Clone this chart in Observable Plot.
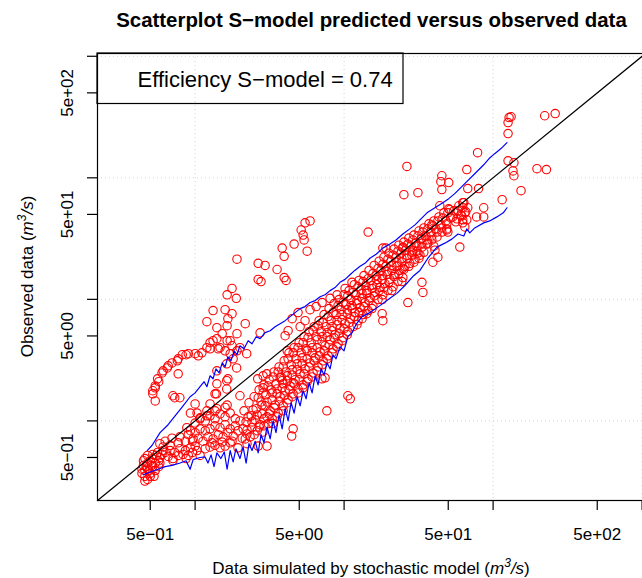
<!DOCTYPE html>
<html>
<head>
<meta charset="utf-8">
<script src="https://cdn.jsdelivr.net/npm/d3@7"></script>
<script src="https://cdn.jsdelivr.net/npm/@observablehq/plot@0.6"></script>
<style>
  html, body { margin: 0; padding: 0; background: #fff; overflow: hidden; }
</style>
</head>
<body>
<div id="chart"></div>
<script>
// ---------- text ----------
const chartTitle = "Scatterplot S\u2212model predicted versus observed data";
const legendLabel = "Efficiency S\u2212model = 0.74";
const xTitleMain = "Data simulated by stochastic model (";
const yTitleMain = "Observed data (";

// ---------- axes ----------
const axisDomain = [0.2213, 1054];
const tickValues = [0.5, 1, 5, 10, 50, 100, 500, 1000];
const labeledTicks = [0.5, 5, 50, 500];
const tickLabels = ["5e\u221201", "5e+00", "5e+01", "5e+02"];
const gridValues = [1, 10, 100, 1000];

// ---------- observed vs simulated points [simulated, observed] ----------
const lowCluster = [[0.46,0.32],[0.44,0.37],[0.46,0.39],[0.48,0.40],[0.50,0.37],[0.52,0.42],[0.45,0.43],[0.48,0.45],[0.50,0.47],[0.54,0.45],[0.52,0.49],[0.57,0.47],[0.46,0.49],[0.48,0.52],[0.52,0.53],[0.55,0.52],[0.58,0.50],[0.45,0.47],[0.50,0.35],[0.54,0.39],[0.57,0.42],[0.58,0.45],[0.47,0.42],[0.44,0.40],[0.51,0.43],[0.56,0.55],[0.60,0.53],[0.61,0.57],[0.49,0.39],[0.46,0.35],[0.53,0.35],[0.48,0.33]];
const lowBand = [[0.63,0.55],[0.68,0.57],[0.73,0.55],[0.79,0.59],[0.86,0.57],[0.93,0.60],[0.66,0.51],[0.71,0.49],[0.77,0.52],[0.83,0.53],[0.90,0.52],[0.96,0.55],[1.03,0.57],[1.08,0.52],[1.0,0.62],[1.17,0.59],[1.26,0.61],[1.36,0.63],[1.47,0.60],[1.59,0.62],[1.72,0.66],[1.94,0.60],[2.23,0.65],[2.65,0.62],[3.04,0.62],[0.71,0.47],[0.87,0.49],[0.61,0.61],[0.68,0.63],[0.77,0.66],[0.86,0.68],[0.96,0.68],[0.63,0.68],[0.70,0.72],[0.79,0.74],[0.90,0.77],[0.58,0.65]];
const midBlob = [[0.93,0.83],[1.0,0.80],[1.08,0.86],[1.17,0.83],[1.26,0.86],[1.36,0.91],[1.47,0.88],[1.59,0.93],[1.72,0.86],[1.86,0.91],[1.05,0.72],[1.13,0.68],[1.22,0.74],[1.32,0.71],[1.43,0.77],[1.54,0.74],[1.66,0.80],[1.80,0.75],[1.94,0.83],[2.10,0.86],[1.0,0.96],[1.08,1.04],[1.17,1.0],[1.26,1.10],[1.36,1.04],[1.47,1.14],[1.59,1.08],[1.72,1.16],[1.86,1.04],[2.0,1.0],[0.97,0.71],[1.30,0.66],[1.52,0.67],[1.77,0.68],[2.07,0.72],[1.20,1.21],[1.40,1.26],[1.64,1.35],[1.03,1.16],[0.88,0.88]];
const midScatter = [[1.0,1.38],[0.93,1.16],[1.26,1.38],[1.39,1.67],[1.63,1.83],[1.66,2.22],[2.0,1.61],[2.86,2.35],[3.72,2.26],[3.90,2.02],[2.86,1.87],[4.55,2.06],[5.3,1.87],[3.33,0.95],[4.55,0.86],[4.45,0.75],[7.66,1.21],[7.1,2.22],[7.45,2.26],[10.6,1.61],[11.0,1.52],[1.80,3.24],[1.63,2.95],[1.90,2.73],[1.40,2.58],[1.63,2.14],[1.40,2.02],[1.36,1.67],[1.08,1.06],[1.20,1.10],[1.36,1.21],[1.59,1.29],[2.22,3.57],[2.73,5.3],[2.63,2.22],[3.03,2.44],[0.77,2.44],[0.73,1.55],[0.79,1.55],[0.71,1.61]];
const upperBranch = [[0.54,1.87],[0.52,1.67],[0.54,1.46],[0.52,1.77],[0.54,1.94],[0.56,2.22],[0.60,2.48],[0.65,2.73],[0.70,3.00],[0.77,3.24],[0.82,3.50],[0.90,3.57],[1.00,3.57],[1.11,3.63],[1.20,4.00],[1.26,4.40],[1.32,4.57],[1.26,3.92],[1.43,3.92],[1.40,4.75],[1.47,4.00],[1.59,3.77],[1.72,3.57],[1.91,3.77],[1.77,4.15],[1.64,4.57],[1.52,5.22],[1.91,5.22],[2.17,6.31],[1.64,6.07],[1.40,5.85],[1.20,6.55],[1.32,8.08],[1.59,8.23],[1.77,7.63],[1.66,6.94],[1.64,10.9],[1.77,12.3],[1.89,10.2],[2.0,4.0],[1.72,4.57],[4.02,5.02],[4.15,3.77],[0.76,3.12],[0.61,2.58],[0.57,2.10],[0.66,2.84],[0.87,3.50],[1.05,3.43]];
const upperCluster = [[1.91,21.4],[2.65,19.8],[2.95,19.0],[2.65,14.6],[2.77,14.0],[3.55,17.6],[3.96,15.1],[4.08,14.3],[3.84,26.4],[3.96,22.6],[4.62,28.5],[5.15,37.2],[5.47,42.6],[5.91,44.2],[5.31,33.8],[5.39,30.8],[5.65,24.9]];
const mainBand = [[2.13,1.21],[2.20,0.98],[2.23,0.78],[2.17,0.71],[2.30,1.41],[2.38,1.10],[2.41,0.88],[2.34,0.74],[2.49,1.58],[2.57,1.26],[2.53,1.02],[2.61,0.83],[2.69,1.80],[2.77,1.43],[2.81,1.14],[2.73,0.93],[2.86,0.81],[2.90,1.98],[2.99,1.64],[2.95,1.33],[3.04,1.08],[2.90,0.91],[3.14,2.18],[3.24,1.80],[3.29,1.49],[3.19,1.21],[3.29,1.04],[3.39,2.53],[3.49,2.02],[3.55,1.67],[3.44,1.35],[3.61,1.16],[3.66,2.78],[3.78,2.30],[3.84,1.87],[3.72,1.58],[3.90,1.33],[3.96,3.12],[4.08,2.53],[4.15,2.14],[4.02,1.77],[4.21,1.49],[4.27,3.63],[4.41,2.89],[4.48,2.39],[4.34,1.94],[4.55,1.67],[4.62,4.00],[4.76,3.24],[4.84,2.63],[4.69,2.18],[4.91,1.83],[4.99,4.40],[5.15,3.63],[5.23,2.95],[5.07,2.44],[5.31,1.98],[5.39,4.93],[5.56,3.92],[5.65,3.24],[5.47,2.68],[5.73,2.22],[5.82,5.42],[6.01,4.40],[6.10,3.63],[5.91,3.00],[6.19,2.48],[6.29,5.96],[6.49,4.93],[6.59,4.00],[6.39,3.30],[6.69,2.78],[6.80,6.68],[7.01,5.42],[7.12,4.48],[6.90,3.70],[7.23,3.12],[7.34,7.49],[7.57,5.96],[7.69,4.93],[7.45,4.15],[7.81,3.43],[7.93,8.39],[8.18,6.68],[8.30,5.52],[8.05,4.66],[8.43,3.92],[8.56,9.23],[8.83,7.49],[8.97,6.19],[8.70,5.12],[9.11,4.31],[9.25,9.96],[9.54,8.23],[9.69,6.81],[9.39,5.74],[9.84,4.84],[9.99,10.9],[10.3,9.06],[10.5,7.63],[10.15,6.31],[10.6,5.42],[10.8,11.8],[11.1,9.96],[11.3,8.39],[11.0,6.94],[11.5,5.96],[11.7,13.2],[12.0,10.9],[12.2,9.23],[11.8,7.78],[12.4,6.68],[12.6,14.3],[13.0,12.0],[13.2,10.2],[12.8,8.55],[13.4,7.49],[13.6,15.7],[14.0,13.0],[14.2,11.2],[13.8,9.41],[14.5,8.08],[14.7,17.3],[15.1,14.3],[15.4,12.3],[14.9,10.3],[15.6,8.88],[15.9,19.0],[16.4,15.7],[16.6,13.2],[16.1,11.4],[16.9,9.96],[17.2,20.6],[17.7,17.3],[18.0,14.6],[17.4,12.5],[18.2,10.9],[18.5,22.2],[19.1,18.7],[19.4,16.0],[18.8,13.5],[19.7,11.8],[20.0,24.0],[20.6,20.6],[20.9,17.3],[20.3,14.6],[21.3,12.7],[21.6,25.9],[22.3,22.2],[22.6,18.7],[21.9,16.0],[23.0,14.0],[23.3,27.9],[24.1,24.0],[24.4,20.2],[23.7,17.3],[24.8,15.1],[25.2,29.6],[26.0,25.4],[26.4,21.8],[25.6,18.7],[27.2,31.9],[28.1,27.4],[28.5,23.1],[27.6,19.8],[29.4,33.8],[30.3,29.0],[30.8,24.9],[29.9,21.4],[31.8,36.5],[32.8,31.3],[33.3,26.9],[32.3,23.1],[34.3,38.7],[35.4,33.2],[36.0,28.5],[37.1,41.8],[38.2,35.8],[38.8,30.8],[40.0,44.2],[41.3,38.0],[42.0,32.6],[43.3,47.7],[44.6,41.0],[45.3,35.8],[46.7,51.5],[48.2,44.2],[48.9,38.0],[50.4,55.6],[52.0,46.8],[54.5,53.5],[56.2,43.4],[58.9,58.9],[60.7,49.6],[63.6,62.4],[65.6,52.5],[62.6,45.1],[4.48,6.94],[4.91,7.78],[5.47,6.68],[5.91,8.23],[6.49,8.72],[5.07,5.96],[4.21,5.52],[7.12,9.41],[8.05,10.2],[8.97,10.9],[10.15,12.3],[11.3,13.8]];
const mainBandFill = [[2.27,1.08],[2.23,0.84],[2.45,1.23],[2.41,0.98],[2.49,0.77],[2.65,1.55],[2.61,1.12],[2.69,0.89],[2.86,1.70],[2.81,1.35],[2.90,1.04],[3.09,1.94],[3.04,1.43],[3.14,1.14],[3.09,0.95],[3.34,2.30],[3.29,1.70],[3.39,1.28],[3.61,2.53],[3.55,1.83],[3.66,1.46],[3.55,1.08],[3.90,2.78],[3.84,2.14],[3.96,1.61],[3.90,1.21],[4.21,3.24],[4.15,2.35],[4.27,1.80],[4.15,1.41],[4.55,3.63],[4.48,2.63],[4.62,2.02],[4.48,1.58],[4.91,4.00],[4.84,2.95],[4.99,2.18],[4.91,1.70],[5.31,4.40],[5.23,3.30],[5.39,2.44],[5.73,4.84],[5.65,3.77],[5.82,2.78],[5.65,2.10],[6.19,5.52],[6.10,4.00],[6.29,3.12],[6.10,2.30],[6.69,6.07],[6.59,4.66],[6.80,3.43],[6.59,2.58],[7.23,6.43],[7.12,4.93],[7.34,3.77],[7.12,2.89],[7.81,7.21],[7.69,5.32],[7.93,4.23],[7.69,3.24],[8.43,7.78],[8.30,5.96],[8.56,4.84],[8.30,3.63],[9.11,8.88],[8.97,6.68],[9.25,5.22],[8.97,4.07],[9.84,9.41],[9.69,7.49],[9.99,5.74],[9.69,4.57],[10.6,10.7],[10.5,8.23],[10.8,6.43],[10.5,5.12],[11.5,11.4],[11.3,8.88],[11.7,7.21],[12.4,12.7],[12.2,9.77],[12.6,7.78],[12.2,6.19],[13.4,14.0],[13.2,11.2],[13.6,8.72],[13.2,6.94],[14.5,14.8],[14.2,11.8],[14.7,9.77],[14.2,7.63],[15.6,16.3],[15.4,13.0],[15.9,10.7],[15.4,8.39],[16.9,18.0],[16.6,14.6],[17.2,11.8],[18.2,19.4],[18.0,15.7],[18.5,12.5],[18.0,9.96],[19.7,21.4],[19.4,17.0],[20.0,13.8],[21.3,23.1],[20.9,19.0],[21.6,15.4],[20.9,11.8],[23.0,24.9],[22.6,20.2],[23.3,16.3],[24.8,26.4],[24.4,21.8],[25.2,17.6],[24.4,14.0],[26.8,28.5],[26.4,23.1],[27.2,18.7],[28.9,30.8],[28.5,24.4],[29.4,20.2],[31.3,33.2],[30.8,27.4],[31.8,21.8],[33.8,35.8],[33.3,29.0],[34.3,24.4],[36.5,38.0],[36.0,30.8],[39.4,40.2],[38.8,33.2],[40.0,27.4],[42.6,44.2],[42.0,35.8],[46.0,46.8],[45.3,38.7],[49.7,51.5],[48.9,41.8],[58.2,53.5],[57.2,46.0],[62.6,56.7],[61.6,48.7]];
const highScatter = [[128,313],[132,318],[126,285],[126,231],[222,324],[261,338],[78.7,161],[26.4,124],[126,138],[138,133],[136,114],[138,104],[197,119],[228,117],[154,78.4],[115,66.1],[66.6,117],[45.3,104],[50.4,91.3],[44.6,93.0],[45.3,80.0],[25.2,72.7],[31.3,75.5],[79.9,81.5],[43.9,58.9],[67.6,81.5],[51.2,54.6],[53.6,47.7],[62.6,62.4],[67.6,56.7],[64.6,51.5],[66.6,45.1],[62.6,42.6],[64.6,39.4],[86.5,56.7],[77.5,47.7],[86.5,47.7],[48.9,37.2],[49.7,35.8],[59.8,26.9],[14.5,35.8],[18.2,26.4],[19.1,26.4],[38.8,41.0],[33.3,31.9],[36.5,29.0],[40.7,25.4],[42.6,22.2],[39.4,20.2],[24.8,26.9],[28.9,25.4],[31.3,24.0],[33.3,13.8],[33.8,11.4],[26.8,9.41],[24.8,18.0],[18.2,6.68],[18.0,7.63]];

// ---------- stochastic model bounds ----------
const upperSim = [0.477,0.515,0.582,0.659,0.734,0.818,0.926,1.0,1.08,1.15,1.20,1.26,1.32,1.38,1.45,1.52,1.59,1.66,1.74,1.83,1.91,2.0,2.13,2.27,2.41,2.57,2.73,2.95,3.19,3.44,3.72,4.02,4.34,4.69,5.07,5.47,5.91,6.39,6.90,7.45,8.05,8.70,9.39,10.15,11.0,11.8,12.8,13.8,14.9,16.4,18.2,20.3,22.3,24.8,27.6,29.9,32.3,36.0,40.7,46.0,50.4,55.3,60.7,66.6,75.3,86.5,94.0,102.5,113,124];
const upperObs = [0.57,0.63,0.80,0.93,1.10,1.30,1.58,1.70,1.91,2.10,1.91,2.35,2.22,2.68,2.48,3.00,2.78,3.37,3.12,3.77,3.50,4.15,3.92,4.57,4.31,4.93,4.75,5.32,5.52,5.96,6.31,6.68,7.21,7.78,8.39,8.72,9.41,9.77,10.5,10.9,11.8,12.5,13.8,14.6,16.0,17.3,18.7,19.8,21.8,23.5,26.4,28.5,30.8,34.5,38.0,41.0,45.1,51.5,56.7,62.4,67.4,74.1,83.1,93.0,108,128,144,158,174,195];
const lowerSim = [0.449,0.499,0.565,0.629,0.70,0.793,0.87,0.926,0.97,1.08,1.167,1.22,1.28,1.34,1.40,1.49,1.57,1.64,1.72,1.80,1.88,2.0,2.10,2.20,2.30,2.41,2.53,2.65,2.77,2.90,3.04,3.19,3.34,3.49,3.66,3.84,4.02,4.21,4.41,4.62,4.84,5.07,5.31,5.56,5.82,6.10,6.39,6.69,7.01,7.34,7.69,8.05,8.43,8.83,9.39,9.99,10.6,11.3,12.0,13.2,14.9,17.4,20.3,22.6,25.6,28.9,32.3,36.5,42.0,47.4,52.8,58.2,63.6,66.6,69.7,75.3,86.5,94.9,106,117,124];
const lowerObs = [0.36,0.38,0.40,0.42,0.43,0.45,0.47,0.40,0.48,0.50,0.505,0.45,0.525,0.42,0.545,0.49,0.555,0.40,0.57,0.46,0.59,0.49,0.61,0.45,0.65,0.57,0.68,0.545,0.77,0.66,0.89,0.71,1.0,0.80,1.12,0.86,1.26,1.0,1.41,1.16,1.58,1.33,1.77,1.52,2.06,1.70,2.35,1.98,2.68,2.39,3.00,2.68,3.50,3.24,4.07,3.77,4.93,5.32,6.19,7.21,7.78,8.88,10.2,11.2,13.0,15.4,17.3,21.8,26.9,29.0,31.3,34.5,33.2,38.0,35.2,38.7,42.6,44.2,47.7,51.5,56.7];

// ---------- build tables ----------
const points = [].concat(lowCluster, lowBand, midBlob, midScatter, upperBranch, upperCluster, mainBand, mainBandFill, highScatter)
  .map(([sim, obs]) => ({sim, obs}));
const upper = upperSim.map((sim, i) => ({sim, obs: upperObs[i]}));
const lower = lowerSim.map((sim, i) => ({sim, obs: lowerObs[i]}));

const fontFamily = "'Liberation Sans', Arial, Helvetica, sans-serif";
const W = 642, H = 578, ML = 97, MR = -3, MT = 53, MB = 78;

const chart = Plot.plot({
  width: W, height: H,
  marginLeft: ML, marginRight: MR, marginTop: MT, marginBottom: MB,
  style: {fontFamily, fontSize: "17px", background: "white", color: "black", overflow: "hidden"},
  x: {type: "log", domain: axisDomain},
  y: {type: "log", domain: axisDomain},
  marks: [
    Plot.ruleX(gridValues, {stroke: "#d3d3d3", strokeDasharray: "1,3", strokeWidth: 1}),
    Plot.ruleY(gridValues, {stroke: "#d3d3d3", strokeDasharray: "1,3", strokeWidth: 1}),
    Plot.dot(points, {x: "sim", y: "obs", r: 4.2, stroke: "#ff0000", fill: "none", strokeWidth: 1.1}),
    Plot.line(upper, {x: "sim", y: "obs", stroke: "#0000ff", strokeWidth: 1.2}),
    Plot.line(lower, {x: "sim", y: "obs", stroke: "#0000ff", strokeWidth: 1.2}),
    Plot.line(axisDomain, {x: d => d, y: d => d, stroke: "black", strokeWidth: 1.2}),
    Plot.axisX({ticks: tickValues, tickFormat: () => "", tickSize: 10, label: null, strokeWidth: 1.2}),
    Plot.axisY({ticks: tickValues, tickFormat: () => "", tickSize: 10, label: null, strokeWidth: 1.2}),
    Plot.text(labeledTicks, {x: d => d, text: (d, i) => tickLabels[i], frameAnchor: "bottom", dy: 39, lineAnchor: "bottom", fontSize: 17, fill: "black"}),
    Plot.text(labeledTicks, {y: d => d, text: (d, i) => tickLabels[i], frameAnchor: "left", dx: -25, rotate: -90, textAnchor: "middle", lineAnchor: "bottom", fontSize: 17, fill: "black"}),
    Plot.frame({stroke: "black", strokeWidth: 1.2}),
    Plot.text([chartTitle], {frameAnchor: "top", dy: -27, lineAnchor: "bottom", fontWeight: "bold", fontSize: 20.4, fill: "black"}),
    Plot.text([legendLabel], {frameAnchor: "top-left", dx: 40, dy: 33, textAnchor: "start", lineAnchor: "bottom", fontSize: 22, fill: "black"})
  ]
});
document.getElementById("chart").appendChild(chart);

// legend box and axis titles with italic / superscript units
const svg = d3.select(chart);
svg.append("rect")
  .attr("x", ML).attr("y", MT).attr("width", 306).attr("height", 50.5)
  .attr("fill", "none").attr("stroke", "black").attr("stroke-width", 1.2);

const plotCenterX = (ML + (W - MR)) / 2;
const plotCenterY = (MT + (H - MB)) / 2;

function unitTitle(sel, main) {
  sel.append("tspan").text(main);
  sel.append("tspan").attr("font-style", "italic").text("m");
  sel.append("tspan").attr("font-size", 12).attr("dy", -7).attr("font-style", "italic").text("3");
  sel.append("tspan").attr("font-style", "italic").attr("dy", 7).text("/s");
  sel.append("tspan").text(")");
}
const xt = svg.append("text")
  .attr("x", plotCenterX).attr("y", H - 4)
  .attr("text-anchor", "middle").attr("font-size", 17).attr("fill", "black");
unitTitle(xt, xTitleMain);
const yt = svg.append("text")
  .attr("transform", `translate(33,${plotCenterY}) rotate(-90)`)
  .attr("text-anchor", "middle").attr("font-size", 17).attr("fill", "black");
unitTitle(yt, yTitleMain);
</script>
</body>
</html>
